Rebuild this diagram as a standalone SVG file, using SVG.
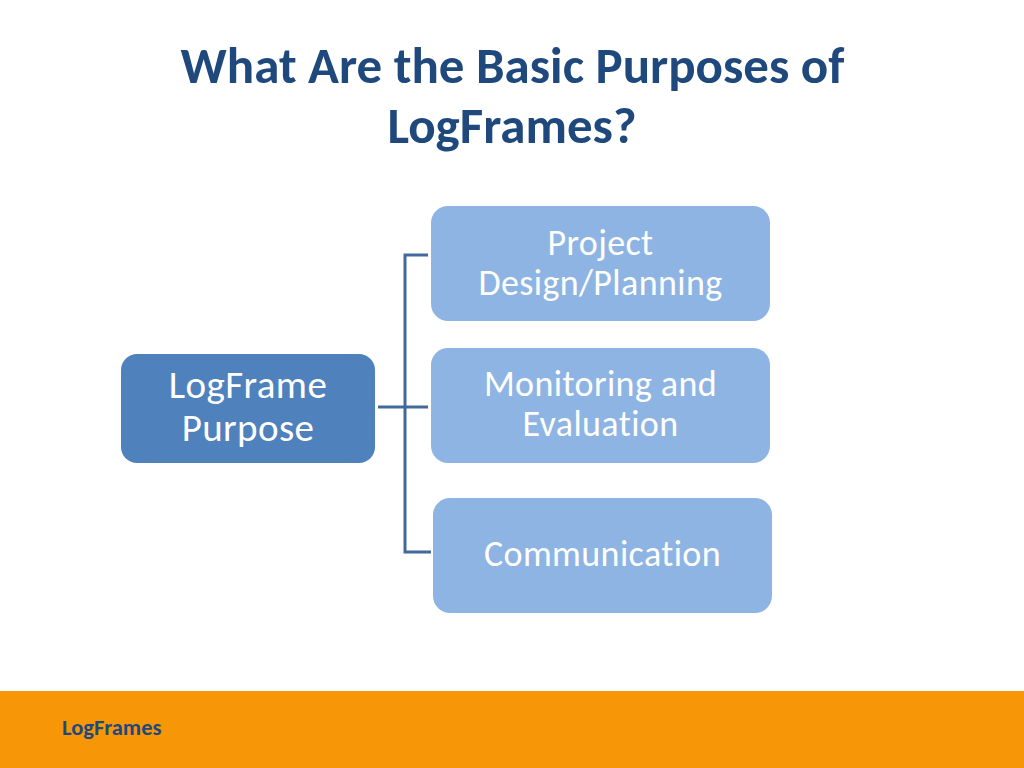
<svg xmlns="http://www.w3.org/2000/svg" width="1024" height="768" viewBox="0 0 1024 768">
<style>
text{font-variant-ligatures:none}
.t{font-family:Carlito,Lato,sans-serif;font-size:36px;letter-spacing:.4px;fill:#fff;text-anchor:middle}
.l{font-size:39px}
.h{font-family:Carlito,Lato,sans-serif;font-weight:700;font-size:51px;fill:#1f497d;text-anchor:middle}
.c{fill:none;stroke:#41699a;stroke-width:3}
.b{fill:#8eb4e3}
</style>
<rect width="1024" height="768" fill="#fff"/>
<rect y="691" width="1024" height="77" fill="#f79708"/>
<text class="h" x="512.500" y="83">What Are the Basic Purposes of</text>
<text class="h" x="512" y="143">LogFrames?</text>
<text x="62" y="735" font-family="Carlito,Lato,sans-serif" font-weight="700" font-size="22.500" fill="#1f497d">LogFrames</text>
<g id="connectors">
<path class="c" d="M428 255H405V552H431"/>
<path class="c" d="M405 407H428"/>
<path class="c" d="M378 407H405" stroke-width="4"/>
</g>
<g id="n1"><rect x="121" y="354" width="254" height="109" rx="16" fill="#4f81bd"/><text class="t l" x="248" y="398">LogFrame</text><text class="t l" x="248" y="441">Purpose</text></g>
<g id="n2"><rect class="b" x="431" y="206" width="339" height="115" rx="17"/><text class="t" x="600.500" y="255">Project</text><text class="t" x="600.500" y="295">Design/Planning</text></g>
<g id="n3"><rect class="b" x="431" y="348" width="339" height="115" rx="17"/><text class="t" x="600.500" y="396">Monitoring and</text><text class="t" x="600.500" y="436">Evaluation</text></g>
<g id="n4"><rect class="b" x="433" y="498" width="339" height="115" rx="17"/><text class="t" x="602.500" y="566">Communication</text></g>
</svg>
